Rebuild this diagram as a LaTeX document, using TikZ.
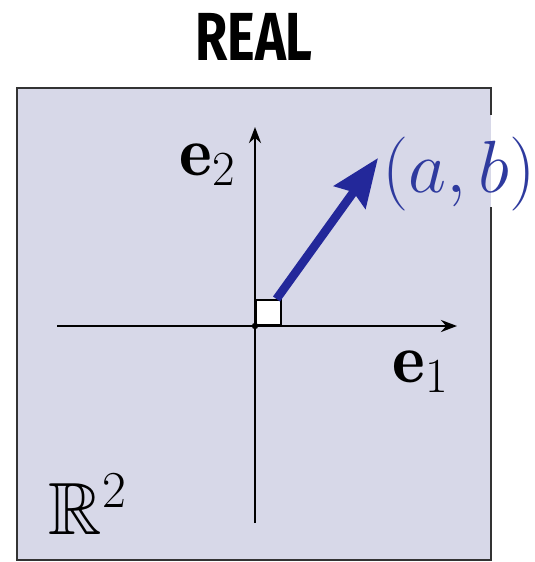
\RequirePackage{fix-cm}
\documentclass[tikz,border=0pt]{standalone}
\usepackage{amsmath,amssymb}
\usepackage{fontspec}
\usepackage{xcolor}
\usepackage{tikz}
\usetikzlibrary{arrows.meta}
\newfontfamily\titlefont{Fira Sans}
\definecolor{planefill}{HTML}{D7D8E8}
\definecolor{vecblue}{HTML}{23289A}
\definecolor{labelblue}{HTML}{2E3A9E}

\begin{document}
\begin{tikzpicture}[x=0.5pt, y=-0.5pt,
  axis/.style={line width=1.3pt, -{Stealth[length=8pt, width=6pt]}},
  lbl/.style={anchor=base, font=\fontsize{#1}{40}\selectfont, inner sep=0pt},
  lbl/.default=35,
  >={Stealth[length=24pt, width=19pt, inset=3pt]}]
\useasboundingbox (0,0) rectangle (535,562);
% plane
\fill[planefill] (17,88) rectangle (491,560);
\draw[black!80, line width=1.4pt] (491,115) -- (491,88) -- (17,88) -- (17,560) -- (491,560) -- (491,207);
\node[anchor=base, inner sep=0pt] (title) at (254,60) {\titlefont\bfseries\fontsize{34}{40}\selectfont\scalebox{0.77}[1]{REAL}};
% axes
\coordinate (o) at (255,326);
\coordinate (xl) at (57,326);
\coordinate (xr) at (457,326);
\coordinate (yb) at (255,523);
\coordinate (yt) at (255,127);
\draw[axis] (xl) -- (xr);
\draw[axis] (yb) -- (yt);
\node[draw=black, fill=white, line width=1pt, minimum size=12.5pt, inner sep=0pt, anchor=south west] (sq) at (o) {};
\fill (o) circle (1.6pt);
% vector
\coordinate (tip) at (378,158);
\draw[vecblue, line width=4.3pt, ->] (sq.north) ++(8,0) coordinate (base) (base) -- (tip);
% labels
\node[lbl] (e2) at (208,175) {$\mathbf{e}_2$};
\node[lbl] (e1) at (421,382) {$\mathbf{e}_1$};
\node[lbl=37, text=labelblue] (ab) at (459,192) {$(a,b)$};
\node[lbl=37] (r2) at (88,534) {$\mathbb{R}^2$};
\end{tikzpicture}
\end{document}
